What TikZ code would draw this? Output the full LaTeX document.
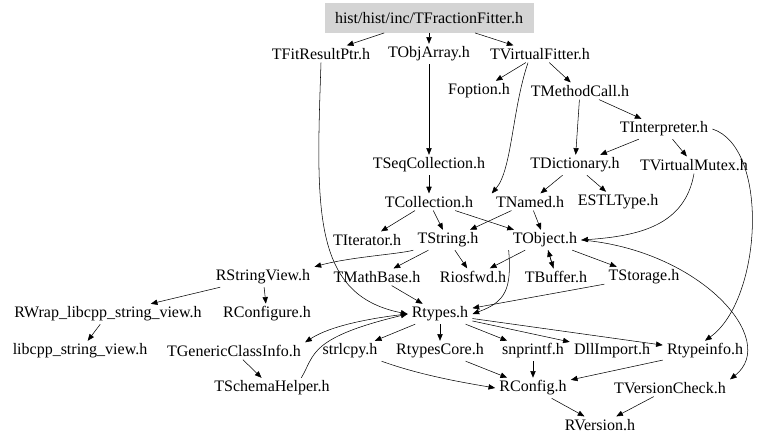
\documentclass[tikz,border=0pt]{standalone}
\usepackage{fontspec}
\setmainfont{Liberation Serif}
\usepackage{tikz}
\usetikzlibrary{arrows.meta}

\begin{document}
\begin{tikzpicture}[x=0.75pt, y=-0.75pt,
  every node/.style={font=\fontsize{12}{14}\selectfont},
  hdr/.style={inner xsep=3pt, inner ysep=2pt},
  top/.style={fill=black!17, draw=black!17, minimum width=156pt, minimum height=22pt},
  arrow/.style={-{Triangle[length=5pt, width=4pt]}, black}
]
\useasboundingbox (0,0) rectangle (768,445);
% headers
\node[top] (fitter) at (429,18) {hist/hist/inc/TFractionFitter.h};
\node[hdr] (fitres) at (321,54) {TFitResultPtr.h};
\node[hdr] (objarr) at (429,54) {TObjArray.h};
\node[hdr] (vfitter) at (540,54) {TVirtualFitter.h};
\node[hdr] (foption) at (479,91) {Foption.h};
\node[hdr] (methcall) at (580,91) {TMethodCall.h};
\node[hdr] (interp) at (664,129) {TInterpreter.h};
\node[hdr] (seqcoll) at (429,165) {TSeqCollection.h};
\node[hdr] (dict) at (575,165) {TDictionary.h};
\node[hdr] (vmutex) at (694,165) {TVirtualMutex.h};
\node[hdr] (coll) at (429,202) {TCollection.h};
\node[hdr] (named) at (530,202) {TNamed.h};
\node[hdr] (estl) at (618,202) {ESTLType.h};
\node[hdr] (iter) at (367,240) {TIterator.h};
\node[hdr] (string) at (448,240) {TString.h};
\node[hdr] (object) at (545,240) {TObject.h};
\node[hdr] (strview) at (263,277) {RStringView.h};
\node[hdr] (mathbase) at (377,277) {TMathBase.h};
\node[hdr] (iosfwd) at (473,277) {Riosfwd.h};
\node[hdr] (buffer) at (556,277) {TBuffer.h};
\node[hdr] (storage) at (644,277) {TStorage.h};
\node[hdr] (rwrap) at (108,314) {RWrap\_libcpp\_string\_view.h};
\node[hdr] (rconfigure) at (267,314) {RConfigure.h};
\node[hdr] (rtypes) at (440,314) {Rtypes.h};
\node[hdr] (libcpp) at (80,351) {libcpp\_string\_view.h};
\node[hdr] (genclass) at (234,351) {TGenericClassInfo.h};
\node[hdr] (strlcpy) at (350,351) {strlcpy.h};
\node[hdr] (rtcore) at (440,351) {RtypesCore.h};
\node[hdr] (snprintf) at (533,351) {snprintf.h};
\node[hdr] (dllimport) at (612,351) {DllImport.h};
\node[hdr] (rtinfo) at (705,351) {Rtypeinfo.h};
\node[hdr] (schema) at (272,388) {TSchemaHelper.h};
\node[hdr] (rconfig) at (533,388) {RConfig.h};
\node[hdr] (vcheck) at (670,388) {TVersionCheck.h};
\node[hdr] (rversion) at (600,425) {RVersion.h};
% includes
\draw[arrow] (fitter) -- (fitres);
\draw[arrow] (fitter) -- (objarr);
\draw[arrow] (fitter) -- (vfitter);
\draw[arrow] (fitres.south) .. controls (316,210) and (312,295) .. (rtypes.west);
\draw[arrow] (objarr) -- (seqcoll);
\draw[arrow] (vfitter) -- (foption);
\draw[arrow] (vfitter) -- (methcall);
\draw[arrow] ([xshift=-9pt]vfitter.south) .. controls (512,110) and (512,170) .. (named.north west);
\draw[arrow] (methcall) -- (interp);
\draw[arrow] (methcall) -- (dict);
\draw[arrow] (interp) -- (dict);
\draw[arrow] (interp) -- (vmutex);
\draw[arrow] (interp.east) .. controls (770,148) and (762,300) .. (rtinfo.north);
\draw[arrow] (seqcoll) -- (coll);
\draw[arrow] (dict) -- (named);
\draw[arrow] (dict) -- (estl);
\draw[arrow] (vmutex.south) .. controls (685,225) and (640,236) .. (object.east);
\draw[arrow] (coll) -- (iter);
\draw[arrow] (coll) -- (string);
\draw[arrow] (coll) -- (object);
\draw[arrow] (named) -- (string);
\draw[arrow] (named) -- (object);
\draw[arrow] (string.south west) .. controls (400,254) and (350,257) .. (strview.north east);
\draw[arrow] (string) -- (mathbase);
\draw[arrow] (string) -- (iosfwd);
\draw[arrow] (object) -- (iosfwd);
\draw[arrow] (object) -- (buffer);
\draw[arrow] (buffer) -- (object);
\draw[arrow] (object) -- (storage);
\draw[arrow] (object.south west) .. controls (512,290) and (505,302) .. (rtypes.east);
\draw[arrow] (object.east) .. controls (700,250) and (780,340) .. (vcheck.north east);
\draw[arrow] (storage) -- (rtypes);
\draw[arrow] (mathbase) -- (rtypes);
\draw[arrow] (strview) -- (rwrap);
\draw[arrow] (strview) -- (rconfigure);
\draw[arrow] (rwrap) -- (libcpp);
\draw[arrow] (rtypes.west) .. controls (370,318) and (330,326) .. (genclass.north east);
\draw[arrow] ([xshift=22pt]schema.north) .. controls (315,355) and (308,338) .. (rtypes.west);
\draw[arrow] (genclass) -- (schema);
\draw[arrow] (rtypes) -- (strlcpy);
\draw[arrow] (rtypes) -- (rtcore);
\draw[arrow] (rtypes) -- (snprintf);
\draw[arrow] (rtypes) -- (dllimport);
\draw[arrow] (rtypes) -- (rtinfo);
\draw[arrow] (strlcpy.south east) .. controls (420,375) and (460,382) .. (rconfig.west);
\draw[arrow] (rtcore) -- (rconfig);
\draw[arrow] (snprintf) -- (rconfig);
\draw[arrow] (rtinfo) -- (rconfig);
\draw[arrow] (rconfig) -- (rversion);
\draw[arrow] (vcheck) -- (rversion);
\end{tikzpicture}
\end{document}
